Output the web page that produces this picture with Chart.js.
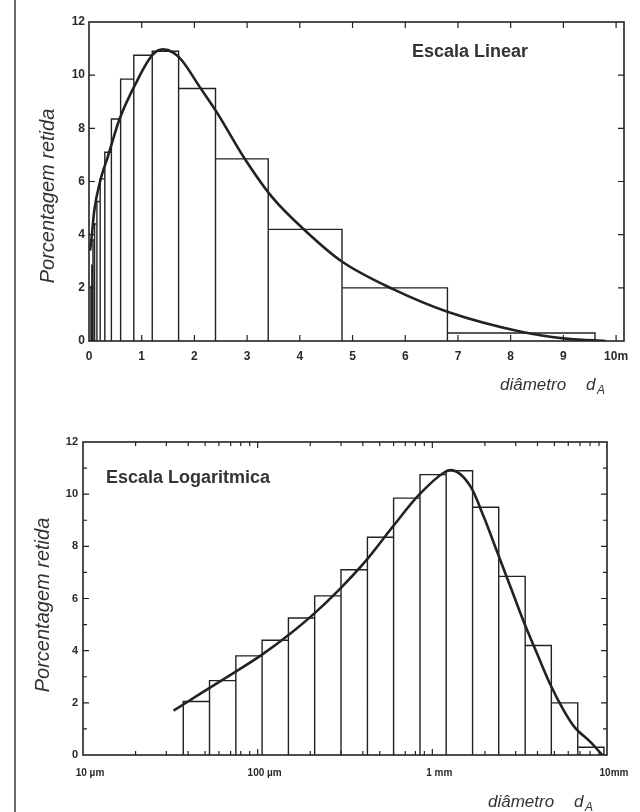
<!DOCTYPE html>
<html lang="pt">
<head>
<meta charset="utf-8">
<title>Distribuição granulométrica</title>
<script src="https://cdn.jsdelivr.net/npm/chart.js@4.4.1/dist/chart.umd.min.js"></script>
<style>
  html, body { margin: 0; padding: 0; background: #fff; }
  #page { position: relative; width: 640px; height: 812px; overflow: hidden; }
  #margem { position: absolute; left: 14px; top: 0; width: 2px; height: 812px; background: #6a6a6a; }
  #boxLinear { position: absolute; left: 0; top: 0; width: 640px; height: 400px; }
  #boxLog { position: absolute; left: 0; top: 400px; width: 640px; height: 412px; }
</style>
</head>
<body>
<div id="page">
  <div id="boxLinear"><canvas id="chartLinear"></canvas></div>
  <div id="boxLog"><canvas id="chartLog"></canvas></div>
  <div id="margem"></div>
</div>
<script>
// bordas das classes granulométricas (mm), razão ~ raiz de 2
const binEdges = [0.0375, 0.053, 0.075, 0.106, 0.15, 0.212, 0.3, 0.425, 0.6, 0.85, 1.2, 1.7, 2.4, 3.4, 4.8, 6.8, 9.6];
// porcentagem retida em cada classe
const binPercent = [2.05, 2.85, 3.8, 4.4, 5.25, 6.1, 7.1, 8.35, 9.85, 10.75, 10.9, 9.5, 6.85, 4.2, 2.0, 0.3];

// curva ajustada - escala linear
const curveLinD = [0.02, 0.05, 0.1, 0.21, 0.36, 0.58, 0.89, 1.2, 1.4, 1.6, 1.76, 2.1, 2.42, 2.93, 3.47, 4.13, 4.79, 5.77, 6.8, 8.2, 9.1, 9.8];
const curveLinP = [3.4, 3.9, 4.9, 6.0, 6.95, 8.35, 9.7, 10.75, 10.97, 10.85, 10.56, 9.56, 8.62, 6.93, 5.42, 4.1, 3.0, 1.95, 1.1, 0.35, 0.08, 0.0];

// curva ajustada - escala logarítmica
const curveLogD = [0.033, 0.047, 0.073, 0.106, 0.149, 0.209, 0.294, 0.417, 0.593, 0.835, 1.18, 1.27, 1.66, 1.97, 2.35, 2.8, 3.31, 3.97, 4.7, 5.64, 6.5, 8.0, 9.4];
const curveLogP = [1.7, 2.35, 3.15, 3.85, 4.58, 5.4, 6.35, 7.45, 8.75, 9.96, 10.85, 10.92, 10.28, 9.13, 7.79, 6.45, 5.17, 3.9, 2.75, 1.72, 1.08, 0.51, 0.0];

// rótulos dos eixos
const linTickValues = [0, 1, 2, 3, 4, 5, 6, 7, 8, 9, 10];
const linTickLabels = ['0', '1', '2', '3', '4', '5', '6', '7', '8', '9', '10m'];
const logDecades = [0.01, 0.1, 1, 10];
const logDecadeLabels = ['10 µm', '100 µm', '1 mm', '10mm'];
const logMinorFactors = [2, 3, 4, 5, 6, 7, 8, 9];

const inkColor = '#222';
const fontFamily = "'Liberation Sans', Arial, sans-serif";

// contorno do histograma a partir das bordas e alturas
function histogramOutline() {
    const pts = [];
    binPercent.forEach((h, i) => {
        pts.push({ x: binEdges[i], y: 0 });
        pts.push({ x: binEdges[i], y: h });
        pts.push({ x: binEdges[i + 1], y: h });
        pts.push({ x: binEdges[i + 1], y: 0 });
    });
    return pts;
}

function curvePoints(ds, ps) {
    return ds.map((d, i) => ({ x: d, y: ps[i] }));
}

// moldura com marcas internas e textos do gráfico
const moldura = {
    id: 'moldura',
    afterDraw(chart, args, opts) {
        const { ctx, chartArea: a, scales } = chart;
        ctx.save();
        ctx.strokeStyle = inkColor;
        ctx.lineWidth = 1.6;
        ctx.strokeRect(a.left, a.top, a.width, a.height);

        ctx.lineWidth = 1.2;
        ctx.beginPath();
        scales.x.ticks.forEach(t => {
            const px = scales.x.getPixelForValue(t.value);
            if (px < a.left + 1 || px > a.right - 1) return;
            const len = t.label !== '' ? 6 : 4;
            ctx.moveTo(px, a.bottom); ctx.lineTo(px, a.bottom - len);
            ctx.moveTo(px, a.top); ctx.lineTo(px, a.top + len);
        });
        scales.y.ticks.forEach(t => {
            const py = scales.y.getPixelForValue(t.value);
            if (py < a.top + 1 || py > a.bottom - 1) return;
            const len = t.label !== '' ? 6 : 4;
            ctx.moveTo(a.left, py); ctx.lineTo(a.left + len, py);
            ctx.moveTo(a.right, py); ctx.lineTo(a.right - len, py);
        });
        ctx.stroke();

        ctx.fillStyle = '#333';
        ctx.textBaseline = 'middle';

        // anotação
        ctx.font = 'bold 18px ' + fontFamily;
        ctx.textAlign = 'left';
        ctx.fillText(opts.label.text, opts.label.x, opts.label.y);

        // título do eixo y
        ctx.save();
        ctx.translate(opts.yTitle.x, opts.yTitle.y);
        ctx.rotate(-Math.PI / 2);
        ctx.textAlign = 'center';
        ctx.font = 'italic 20px ' + fontFamily;
        ctx.fillText('Porcentagem retida', 0, 0);
        ctx.restore();

        // título do eixo x com subscrito
        const xt = opts.xTitle;
        ctx.font = 'italic 17px ' + fontFamily;
        ctx.fillText('diâmetro', xt.x, xt.y);
        ctx.fillText('d', xt.x + 86, xt.y);
        ctx.font = 'italic 12px ' + fontFamily;
        ctx.fillText('A', xt.x + 97, xt.y + 6);
        ctx.restore();
    }
};

const tickFont = { family: fontFamily, size: 12, weight: 'bold' };

function baseDatasets(curve) {
    return [
        {
            label: 'Curva',
            data: curve,
            showLine: true,
            borderColor: inkColor,
            borderWidth: 2.6,
            pointRadius: 0,
            cubicInterpolationMode: 'monotone',
            fill: false
        },
        {
            label: 'Histograma',
            data: histogramOutline(),
            showLine: true,
            borderColor: '#222',
            borderWidth: 1.4,
            pointRadius: 0,
            tension: 0,
            fill: false
        }
    ];
}

// ===== Gráfico 1: escala linear =====
new Chart(document.getElementById('chartLinear'), {
    type: 'scatter',
    data: { datasets: baseDatasets(curvePoints(curveLinD, curveLinP)) },
    options: {
        responsive: true,
        maintainAspectRatio: false,
        animation: false,
        layout: { padding: { left: 0, right: 16, top: 22, bottom: 0 } },
        plugins: {
            legend: { display: false },
            tooltip: { enabled: false },
            moldura: {
                label: { text: 'Escala Linear', x: 412, y: 52 },
                yTitle: { x: 48, y: 196 },
                xTitle: { x: 500, y: 385 }
            }
        },
        scales: {
            x: {
                type: 'linear',
                min: 0,
                max: 10.15,
                grid: { display: false, drawTicks: false },
                border: { display: false },
                afterFit: s => { s.height = 59; },
                ticks: {
                    stepSize: 1,
                    includeBounds: false,
                    autoSkip: false,
                    maxRotation: 0,
                    padding: 8,
                    color: '#2a2a2a',
                    font: tickFont,
                    callback: v => {
                        const i = linTickValues.indexOf(v);
                        return i >= 0 ? linTickLabels[i] : '';
                    }
                }
            },
            y: {
                min: 0,
                max: 12,
                grid: { display: false, drawTicks: false },
                border: { display: false },
                afterFit: s => { s.width = 89; },
                ticks: { stepSize: 2, padding: 4, color: '#2a2a2a', font: tickFont }
            }
        }
    },
    plugins: [moldura]
});

// ===== Gráfico 2: escala logarítmica =====
new Chart(document.getElementById('chartLog'), {
    type: 'scatter',
    data: { datasets: baseDatasets(curvePoints(curveLogD, curveLogP)) },
    options: {
        responsive: true,
        maintainAspectRatio: false,
        animation: false,
        layout: { padding: { left: 0, right: 33, top: 42, bottom: 0 } },
        plugins: {
            legend: { display: false },
            tooltip: { enabled: false },
            moldura: {
                label: { text: 'Escala Logaritmica', x: 106, y: 78 },
                yTitle: { x: 43, y: 205 },
                xTitle: { x: 488, y: 402 }
            }
        },
        scales: {
            x: {
                type: 'logarithmic',
                min: 0.01,
                max: 10,
                grid: { display: false, drawTicks: false },
                border: { display: false },
                afterFit: s => { s.height = 57; },
                afterBuildTicks: s => {
                    const ticks = [];
                    logDecades.forEach(d => {
                        ticks.push({ value: d });
                        if (d < 10) logMinorFactors.forEach(m => ticks.push({ value: d * m }));
                    });
                    s.ticks = ticks;
                },
                ticks: {
                    autoSkip: false,
                    maxRotation: 0,
                    padding: 12,
                    labelOffset: 7,
                    color: '#2a2a2a',
                    font: { family: fontFamily, size: 10, weight: 'bold' },
                    callback: v => {
                        const i = logDecades.indexOf(v);
                        return i >= 0 ? logDecadeLabels[i] : '';
                    }
                }
            },
            y: {
                min: 0,
                max: 12,
                grid: { display: false, drawTicks: false },
                border: { display: false },
                afterFit: s => { s.width = 83; },
                ticks: {
                    stepSize: 1,
                    padding: 5,
                    color: '#2a2a2a',
                    font: { family: fontFamily, size: 11, weight: 'bold' },
                    callback: v => (v % 2 === 0 ? String(v) : '')
                }
            }
        }
    },
    plugins: [moldura]
});
</script>
</body>
</html>
